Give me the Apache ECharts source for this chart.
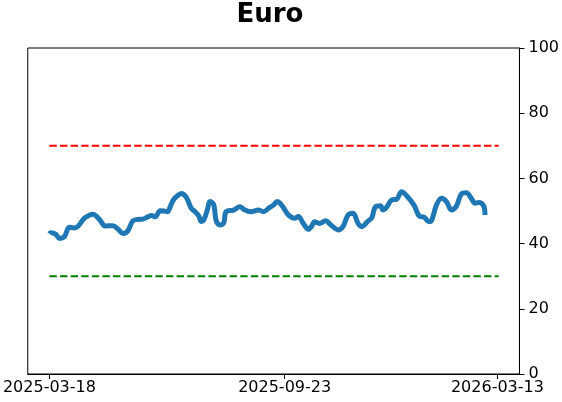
<!DOCTYPE html>
<html>
<head>
<meta charset="utf-8">
<script src="https://cdn.jsdelivr.net/npm/echarts@6/dist/echarts.min.js"></script>
<style>
  html, body { margin: 0; padding: 0; background: #fff; }
  #chart { width: 562px; height: 402px; }
</style>
</head>
<body>
<div id="chart"></div>
<script>
  // dates (roughly every 3-5 days)
  const dates = [
    '2025-03-18', '2025-03-19', '2025-03-23', '2025-03-26', '2025-03-30',
    '2025-04-03', '2025-04-07', '2025-04-10', '2025-04-15', '2025-04-19',
    '2025-04-22', '2025-04-27', '2025-05-02', '2025-05-08', '2025-05-12',
    '2025-05-16', '2025-05-20', '2025-05-24', '2025-05-28', '2025-06-01',
    '2025-06-05', '2025-06-08', '2025-06-11', '2025-06-15', '2025-06-18',
    '2025-06-21', '2025-06-23', '2025-06-26', '2025-06-30', '2025-07-02',
    '2025-07-06', '2025-07-10', '2025-07-13', '2025-07-16', '2025-07-18',
    '2025-07-20', '2025-07-23', '2025-07-25', '2025-07-28', '2025-07-30',
    '2025-08-02', '2025-08-05', '2025-08-07', '2025-08-13', '2025-08-18',
    '2025-08-22', '2025-08-27', '2025-09-02', '2025-09-06', '2025-09-11',
    '2025-09-14', '2025-09-17', '2025-09-19', '2025-09-22', '2025-09-26',
    '2025-10-01', '2025-10-04', '2025-10-08', '2025-10-12', '2025-10-15',
    '2025-10-17', '2025-10-21', '2025-10-26', '2025-10-30', '2025-11-05',
    '2025-11-09', '2025-11-13', '2025-11-17', '2025-11-21', '2025-11-24',
    '2025-11-29', '2025-12-02', '2025-12-05', '2025-12-09', '2025-12-11',
    '2025-12-14', '2025-12-18', '2025-12-22', '2025-12-26', '2025-12-30',
    '2026-01-05', '2026-01-09', '2026-01-13', '2026-01-17', '2026-01-19',
    '2026-01-23', '2026-01-27', '2026-01-31', '2026-02-04', '2026-02-08',
    '2026-02-12', '2026-02-16', '2026-02-20', '2026-02-23', '2026-02-26',
    '2026-03-02', '2026-03-03'
  ]
  const euroValues = [
    43.0, 43.3, 42.9, 41.6, 42.1, 45.0, 44.8, 45.3, 47.8, 48.7,
    49.0, 47.5, 45.4, 45.5, 44.5, 43.1, 43.9, 47.0, 47.4, 47.5,
    48.2, 48.6, 48.2, 50.1, 50.0, 49.8, 51.3, 53.6, 55.0, 55.4,
    54.2, 50.8, 49.8, 48.5, 46.8, 47.2, 50.5, 52.9, 52.0, 47.0,
    45.7, 46.3, 49.8, 50.3, 51.3, 50.3, 49.8, 50.3, 49.8, 51.1,
    51.8, 52.9, 52.5, 51.1, 48.8, 47.8, 48.3, 46.2, 44.4, 45.5,
    46.7, 46.2, 47.0, 45.8, 44.2, 45.3, 48.8, 49.3, 46.2, 45.2,
    46.9, 47.9, 51.3, 51.6, 50.3, 51.2, 53.4, 53.6, 55.9, 54.7,
    51.8, 48.5, 48.1, 46.7, 47.0, 51.8, 53.9, 52.9, 50.3, 51.5,
    55.2, 55.6, 53.9, 52.4, 52.6, 51.5, 48.8
  ]
  const tickLabels = ['2025-03-18', '2025-09-23', '2026-03-13']
  const upperLevel = 70
  const lowerLevel = 30
  const levelDates = ['2025-03-18', '2026-03-14']

  // x is measured in days from the first tick date
  const DAY = 24 * 3600 * 1000
  const base = Date.UTC(2025, 2, 18)
  const toDay = s => {
    const p = s.split('-').map(Number)
    return Math.round((Date.UTC(p[0], p[1] - 1, p[2]) - base) / DAY)
  }
  const tickDays = tickLabels.map(toDay)

  const chart = echarts.init(document.getElementById('chart'))
  const font = 'DejaVu Sans'

  const option = {
    animation: false,
    backgroundColor: '#fff',
    title: {
      text: 'Euro',
      left: 265,
      top: -3,
      textAlign: 'center',
      textStyle: { fontFamily: font, fontSize: 26, fontWeight: 'bold', color: '#000' }
    },
    grid: {
      left: 27, right: 41, top: 48, bottom: 28,
      show: true, borderColor: '#000', borderWidth: 1, backgroundColor: 'transparent'
    },
    xAxis: {
      type: 'value',
      min: -17.4,
      max: 377.7,
      axisLine: { show: true, onZero: false, lineStyle: { color: '#000', width: 1 } },
      axisTick: {
        show: true, length: 5, inside: false,
        customValues: tickDays,
        lineStyle: { color: '#000' }
      },
      axisLabel: {
        customValues: tickDays,
        fontFamily: font, fontSize: 16, color: '#000', margin: 6,
        showMinLabel: true, showMaxLabel: true,
        formatter: v => {
          const i = tickDays.indexOf(Math.round(v))
          return i >= 0 ? tickLabels[i] : ''
        }
      },
      splitLine: { show: false }
    },
    yAxis: {
      type: 'value',
      position: 'right',
      min: 0, max: 100, interval: 20,
      axisLine: { show: true, onZero: false, lineStyle: { color: '#000', width: 1 } },
      axisTick: { show: true, length: 5, lineStyle: { color: '#000' } },
      axisLabel: { fontFamily: font, fontSize: 16, color: '#000', margin: 9 },
      splitLine: { show: false }
    },
    series: [
      {
        name: 'upper',
        type: 'line',
        data: levelDates.map(d => [toDay(d), upperLevel]),
        symbol: 'none',
        lineStyle: { color: '#ff0000', width: 2, type: [7.4, 3.2] },
        z: 1
      },
      {
        name: 'lower',
        type: 'line',
        data: levelDates.map(d => [toDay(d), lowerLevel]),
        symbol: 'none',
        lineStyle: { color: '#008000', width: 2, type: [7.4, 3.2] },
        z: 1
      },
      {
        name: 'Euro',
        type: 'line',
        data: dates.map((d, i) => [toDay(d), euroValues[i]]),
        symbol: 'none',
        smooth: 0.35,
        lineStyle: { color: '#1f77b4', width: 5, cap: 'butt', join: 'round' },
        z: 3
      }
    ]
  }

  chart.setOption(option)
</script>
</body>
</html>
